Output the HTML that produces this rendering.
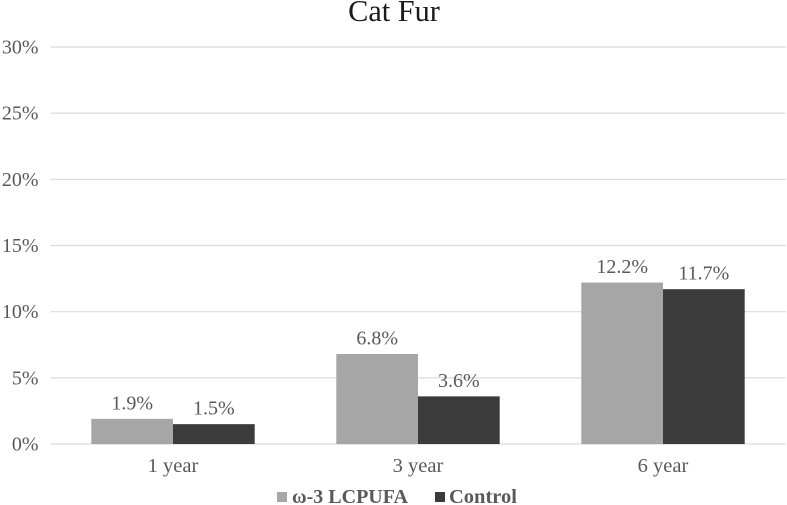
<!DOCTYPE html>
<html>
<head>
<meta charset="utf-8">
<style>
html,body{margin:0;padding:0;background:#fff;}
#chart{display:block;width:787px;height:505px;font-family:"Liberation Serif","Noto Serif CJK SC",serif;}
</style>
</head>
<body>
<svg id="chart" width="787" height="505" viewBox="0 0 787 505" xmlns="http://www.w3.org/2000/svg">
<rect x="0" y="0" width="787" height="505" fill="#ffffff"/>
<text x="394" y="21" text-anchor="middle" font-size="30.3" fill="#1a1a1a">Cat Fur</text>
<g id="grid"></g>
<g id="bars"></g>
<g id="labels"></g>
<g>
<rect x="277" y="492" width="10" height="10" fill="#a6a6a6"/>
<text x="292" y="503" font-size="20" font-weight="bold" fill="#595959">ω-3 LCPUFA</text>
<rect x="435" y="492" width="10" height="10" fill="#3b3b3b"/>
<text x="449" y="503" font-size="20.5" font-weight="bold" fill="#595959">Control</text>
</g>
</svg>
<script>
const categories = ['1 year', '3 year', '6 year'];
const omega3Values = [1.9, 6.8, 12.2];
const controlValues = [1.5, 3.6, 11.7];
const tickValues = [0, 5, 10, 15, 20, 25, 30];

const NS = 'http://www.w3.org/2000/svg';
const plot = { left: 50.5, right: 785.5, top: 47, bottom: 444, max: 30 };
const barW = 81.7;

function yScale(v) {
  return plot.bottom - (v / plot.max) * (plot.bottom - plot.top);
}
function xCenter(i) {
  return plot.left + (i + 0.5) * (plot.right - plot.left) / categories.length;
}
function make(tag, attrs, parent, text) {
  const el = document.createElementNS(NS, tag);
  for (const k in attrs) el.setAttribute(k, attrs[k]);
  if (text !== undefined) el.textContent = text;
  parent.appendChild(el);
  return el;
}

const gridG = document.getElementById('grid');
const barsG = document.getElementById('bars');
const labelsG = document.getElementById('labels');

tickValues.forEach(function (t) {
  const y = yScale(t);
  const line = make('line', { x1: plot.left, x2: plot.right, y1: y, y2: y, stroke: '#d9d9d9', 'stroke-width': 1.2 }, gridG);
  
  
  const label = make('text', { x: 38.5, y: y + 6.5, 'text-anchor': 'end', 'font-size': 20, fill: '#595959' }, gridG, t + '%');
  
  
});

function drawSeries(values, name, color, side) {
  values.forEach(function (v, i) {
    const cx = xCenter(i);
    const x = side < 0 ? cx - barW : cx;
    const y = yScale(v);
    const bar = make('rect', { x: x, y: y, width: barW, height: plot.bottom - y, fill: color }, barsG);
    
    
    const label = make('text', { x: x + barW / 2, y: y - 9.5, 'text-anchor': 'middle', 'font-size': 20, fill: '#595959' }, labelsG, v.toFixed(1) + '%');
    
    
  });
}
drawSeries(omega3Values, 'omega3', '#a6a6a6', -1);
drawSeries(controlValues, 'control', '#3b3b3b', 1);

categories.forEach(function (c, i) {
  const label = make('text', { x: xCenter(i), y: 472, 'text-anchor': 'middle', 'font-size': 20.5, fill: '#595959' }, labelsG, c);
  
  
});
</script>
</body>
</html>
